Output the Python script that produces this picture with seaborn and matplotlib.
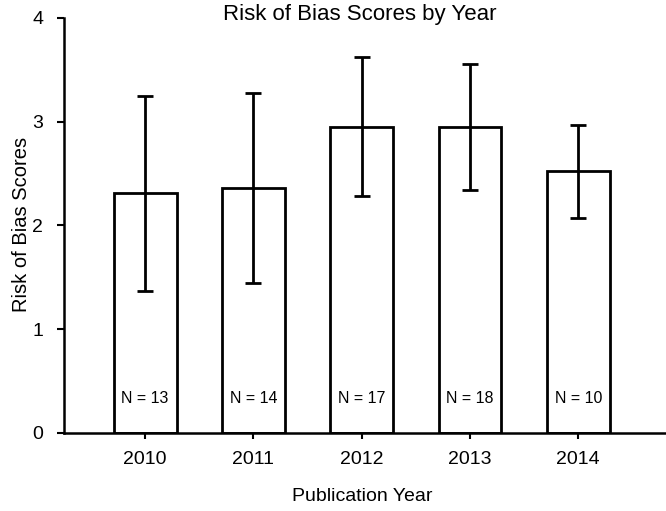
import pandas as pd
import numpy as np

import seaborn as sns
import matplotlib.pyplot as plt

years = ["2010", "2011", "2012", "2013", "2014"]
mean_scores = [2.31, 2.36, 2.95, 2.95, 2.52]
sd_scores = [0.94, 0.92, 0.67, 0.61, 0.45]
n_studies = [13, 14, 17, 18, 10]

df = pd.DataFrame({"year": years, "score": mean_scores})

sns.set_style("ticks", {"text.color": "black", "axes.labelcolor": "black",
                        "xtick.color": "black", "ytick.color": "black"})
plt.rcParams["font.family"] = ["Liberation Sans", "DejaVu Sans"]

fig = plt.figure(figsize=(6.66, 5.11), dpi=100)
ax = fig.add_axes([0.096, 0.153, 0.904, 0.812])

sns.barplot(data=df, x="year", y="score", color="white", edgecolor="black",
            linewidth=2.0, width=0.58, errorbar=None, ax=ax)

# error bars at the categorical positions
pos = np.arange(len(years))
ax.errorbar(pos, mean_scores, yerr=sd_scores, fmt="none", ecolor="black",
            elinewidth=2.0, capsize=6, capthick=2.0)

for i, n in enumerate(n_studies):
    ax.text(i, 0.33, f"N = {n}", ha="center", va="center", fontsize=11.5, color="black")

ax.set_ylim(0, 4)
ax.set_xlim(-0.75, 4.81)
ax.set_yticks([0, 1, 2, 3, 4])
ax.set_xlabel("Publication Year", fontsize=14, va="center")
ax.set_ylabel("Risk of Bias Scores", fontsize=14.5, va="center")
ax.xaxis.set_label_coords(0.495, -0.154)
ax.yaxis.set_label_coords(-0.071, 0.501)
ax.tick_params(axis="both", labelsize=14, colors="black", width=1.5)
ax.tick_params(axis="x", length=4, pad=9)
ax.tick_params(axis="y", length=5, pad=10)
for s in ["left", "bottom"]:
    ax.spines[s].set_linewidth(1.8)
    ax.spines[s].set_color("black")
sns.despine(ax=ax)

fig.text(0.54, 0.971, "Risk of Bias Scores by Year", ha="center", va="center",
         fontsize=16, color="black")

fig.savefig("out.png", dpi=100)
